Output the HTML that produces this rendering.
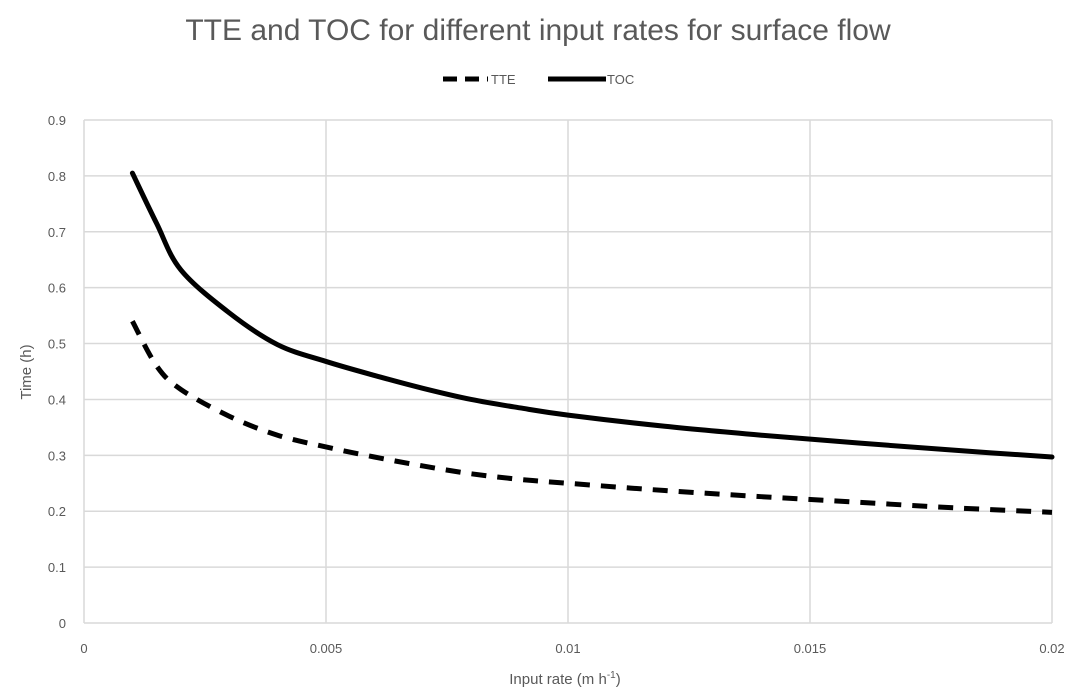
<!DOCTYPE html>
<html><head><meta charset="utf-8"><style>
html,body{margin:0;padding:0;background:#fff;}
svg{display:block;font-family:"Liberation Sans",sans-serif;}
</style></head><body>
<svg id="chart" width="1082" height="698" viewBox="0 0 1082 698">
<text x="538" y="40" text-anchor="middle" font-size="30" fill="#595959">TTE and TOC for different input rates for surface flow</text>
<g>
<line x1="443" y1="79" x2="488" y2="79" stroke="#000" stroke-width="5" stroke-dasharray="14,8"/>
<text x="491" y="84" font-size="13" fill="#595959">TTE</text>
<line x1="548" y1="79" x2="606" y2="79" stroke="#000" stroke-width="5"/>
<text x="607" y="84" font-size="13" fill="#595959">TOC</text>
</g>
<g id="grid"></g><g id="axes"></g><g id="series"></g>
<text x="565" y="684" text-anchor="middle" font-size="15" fill="#595959">Input rate (m h<tspan dy="-6" font-size="10">-1</tspan><tspan dy="6">)</tspan></text>
<text transform="translate(31,372) rotate(-90)" text-anchor="middle" font-size="15" fill="#595959">Time (h)</text>
</svg>
<script>
const xTicks=[0,0.005,0.01,0.015,0.02];
const xTickLabels=["0","0.005","0.01","0.015","0.02"];
const yTicks=[0,0.1,0.2,0.3,0.4,0.5,0.6,0.7,0.8,0.9];
const yTickLabels=["0","0.1","0.2","0.3","0.4","0.5","0.6","0.7","0.8","0.9"];
const xValues=[0.001,0.0015,0.002,0.003,0.004,0.005,0.006,0.007,0.008,0.009,0.01,0.012,0.014,0.016,0.018,0.02];
const tocValues=[0.805,0.715,0.632,0.555,0.498,0.468,0.443,0.42,0.4,0.385,0.372,0.352,0.336,0.322,0.309,0.297];
const tteValues=[0.54,0.46,0.418,0.37,0.336,0.315,0.297,0.281,0.267,0.257,0.25,0.237,0.226,0.216,0.206,0.198];
const NS="http://www.w3.org/2000/svg";
const X0=84,X1=1052,Y0=623,Y1=120;
const sx=v=>X0+(v-0)/(0.02-0)*(X1-X0);
const sy=v=>Y0-(v/0.9)*(Y0-Y1);
function mk(t,a,p){const e=document.createElementNS(NS,t);for(const k in a)e.setAttribute(k,a[k]);p.appendChild(e);return e;}
const grid=document.getElementById('grid'),axes=document.getElementById('axes'),ser=document.getElementById('series');
yTicks.forEach((v,i)=>{
 const l=mk('line',{x1:X0,x2:X1,y1:sy(v),y2:sy(v),stroke:'#d9d9d9','stroke-width':1.5},grid);
 
 
 const t=mk('text',{x:66,y:sy(v)+5,'text-anchor':'end','font-size':13,fill:'#595959'},axes);
 t.textContent=yTickLabels[i];
 
 
});
xTicks.forEach((v,i)=>{
 const l=mk('line',{x1:sx(v),x2:sx(v),y1:Y1,y2:Y0,stroke:'#d9d9d9','stroke-width':1.5},grid);
 
 
 const t=mk('text',{x:sx(v),y:653,'text-anchor':'middle','font-size':13,fill:'#595959'},axes);
 t.textContent=xTickLabels[i];
 
 
});
function smooth(xs,ys){
 const P=xs.map((x,i)=>[sx(x),sy(ys[i])]);
 let d='M'+P[0][0]+','+P[0][1];
 for(let i=0;i<P.length-1;i++){
  const p0=P[Math.max(i-1,0)],p1=P[i],p2=P[i+1],p3=P[Math.min(i+2,P.length-1)];
  const c1=[p1[0]+(p2[0]-p0[0])/6,p1[1]+(p2[1]-p0[1])/6];
  const c2=[p2[0]-(p3[0]-p1[0])/6,p2[1]-(p3[1]-p1[1])/6];
  d+=' C'+c1+' '+c2+' '+p2;
 }
 return d;
}
const toc=mk('path',{d:smooth(xValues,tocValues),fill:'none',stroke:'#000','stroke-width':5,'stroke-linecap':'round'},ser);


const tte=mk('path',{d:smooth(xValues,tteValues),fill:'none',stroke:'#000','stroke-width':5,'stroke-dasharray':'15,11'},ser);


</script>
</body></html>
